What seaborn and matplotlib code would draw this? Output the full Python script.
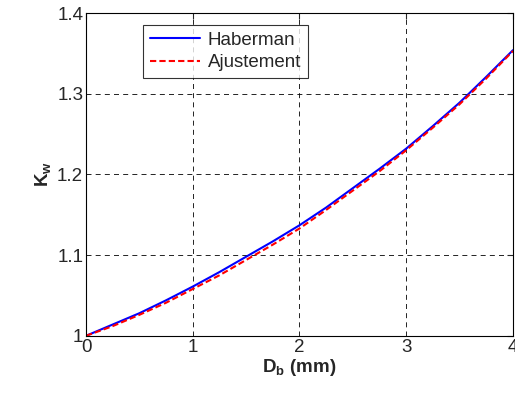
import matplotlib
matplotlib.use("Agg")
import matplotlib.pyplot as plt
import seaborn as sns
import pandas as pd

# diametre de bulle (mm)
db = [0, 0.25, 0.5, 0.75, 1.0, 1.25, 1.5, 1.75, 2.0,
      2.25, 2.5, 2.75, 3.0, 3.25, 3.5, 3.75, 4.0]
# valeurs
kw_haberman = [1.000, 1.014, 1.028, 1.044, 1.061, 1.079, 1.098, 1.117, 1.137,
               1.159, 1.183, 1.207, 1.232, 1.260, 1.289, 1.321, 1.354]
kw_ajust = [1.000, 1.012, 1.026, 1.041, 1.058, 1.075, 1.094, 1.113, 1.133,
            1.156, 1.180, 1.204, 1.230, 1.258, 1.287, 1.319, 1.353]

df = pd.DataFrame({
    "Db": db * 2,
    "Kw": kw_haberman + kw_ajust,
    "courbe": ["Haberman"] * len(db) + ["Ajustement"] * len(db),
})

sns.set_style("white")
plt.rcParams["font.family"] = ["Liberation Sans", "DejaVu Sans"]
plt.rcParams["mathtext.fontset"] = "custom"
plt.rcParams["mathtext.bf"] = "Liberation Sans:bold"
plt.rcParams["mathtext.rm"] = "Liberation Sans"

fig = plt.figure(figsize=(5.15, 3.96), dpi=100)
ax = fig.add_axes([0.167, 0.152, 0.829, 0.815])

sns.lineplot(data=df, x="Db", y="Kw", hue="courbe", style="courbe",
             palette={"Haberman": "blue", "Ajustement": "red"},
             dashes={"Haberman": "", "Ajustement": (3, 1.5)},
             linewidth=1.5, ax=ax)

ax.set_xlim(0, 4)
ax.set_ylim(1, 1.4)
ax.set_xticks([0, 1, 2, 3, 4])
ax.set_yticks([1, 1.1, 1.2, 1.3, 1.4])
ax.set_xticklabels(["0", "1", "2", "3", "4"])
ax.set_yticklabels(["1", "1.1", "1.2", "1.3", "1.4"])
ax.tick_params(direction="in", length=4, labelsize=13.5, pad=2, top=True, right=True)
ax.grid(True, color="black", linestyle=(0, (6, 5)), linewidth=0.6)
for s in ax.spines.values():
    s.set_color("black")
    s.set_linewidth(0.8)

ax.set_xlabel(r"$\mathbf{D_b}$ (mm)", fontsize=13.5, fontweight="bold", labelpad=1)
ax.set_ylabel(r"$\mathbf{K_w}$", fontsize=13.5, fontweight="bold", labelpad=3)

leg = ax.legend(loc="upper left", bbox_to_anchor=(0.125, 0.975), fontsize=13.5,
                frameon=True, fancybox=False, edgecolor="black",
                handlelength=2.7, borderpad=0.35, labelspacing=0.3, handletextpad=0.4,
                borderaxespad=0.2)
leg.get_frame().set_linewidth(0.8)

fig.savefig("out.png", dpi=100)
